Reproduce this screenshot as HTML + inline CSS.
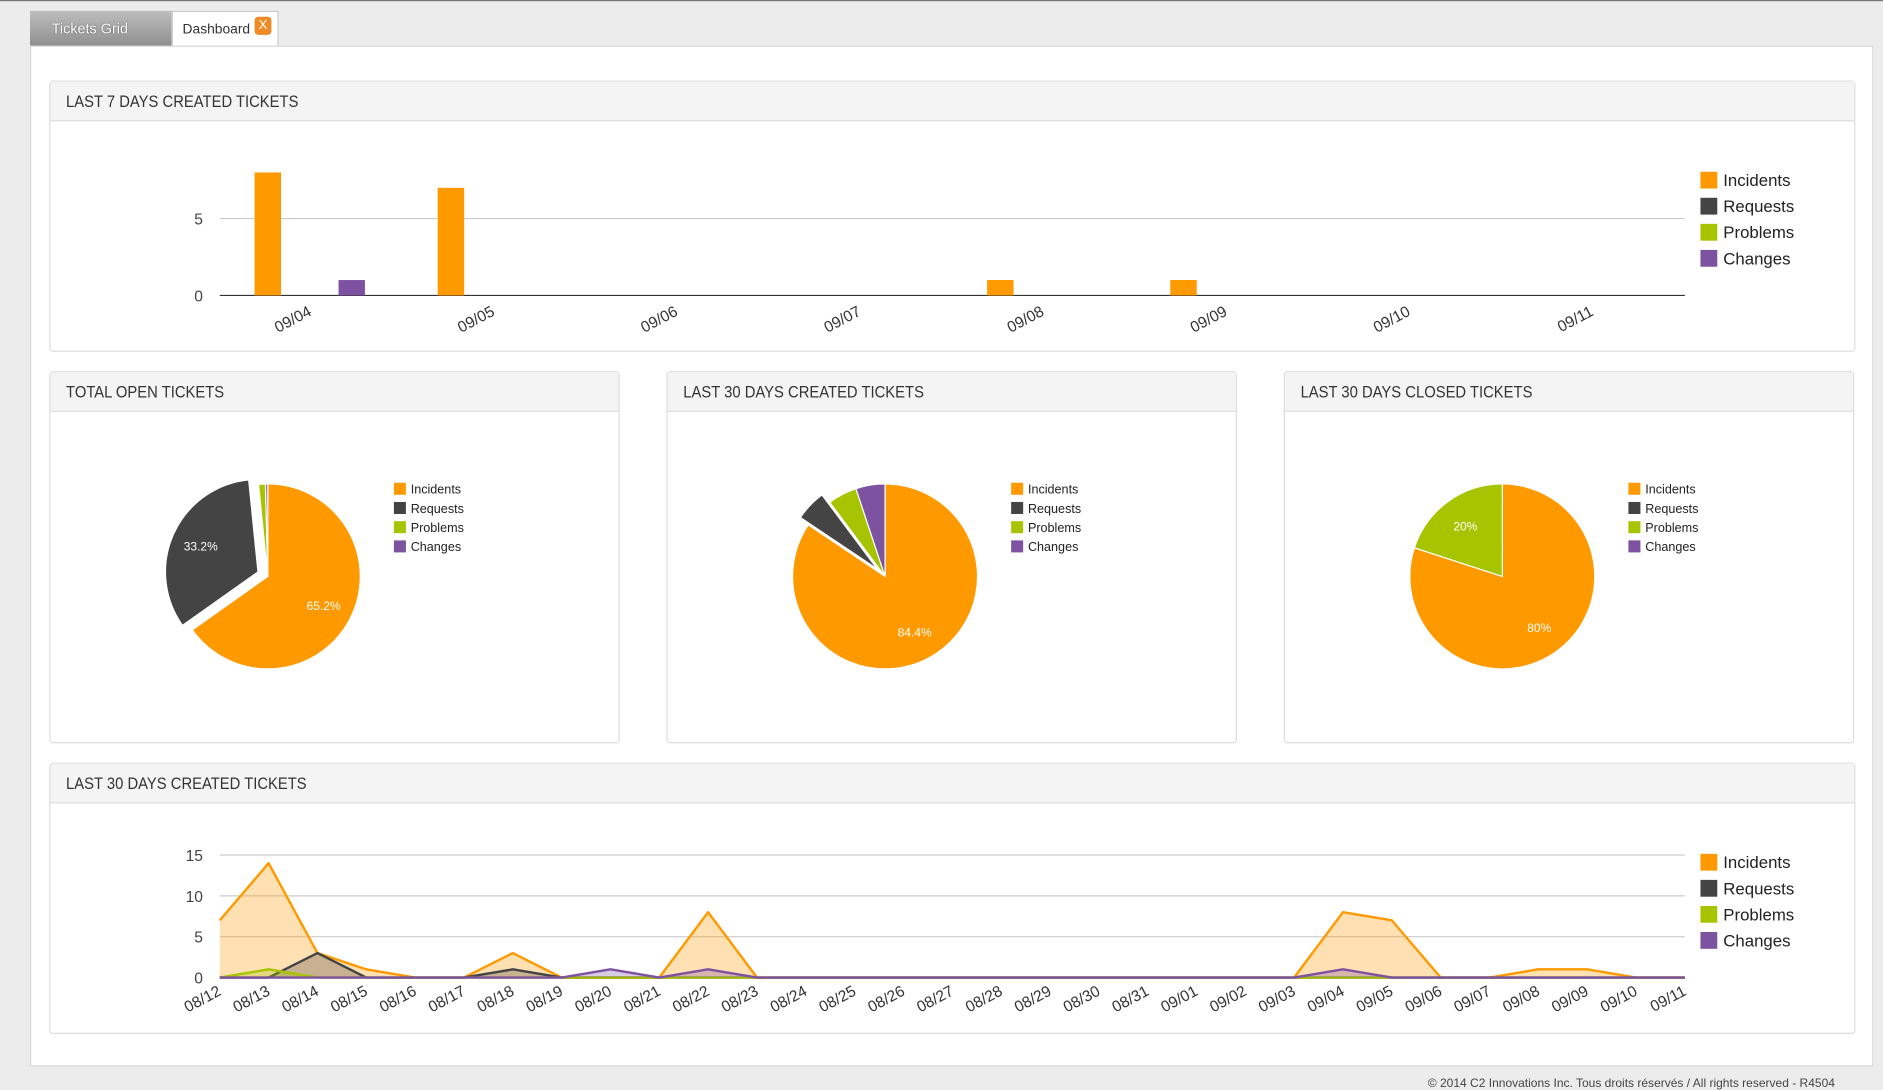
<!DOCTYPE html>
<html><head><meta charset="utf-8">
<style>
html,body{margin:0;padding:0;width:1883px;height:1083px;overflow:hidden;background:#ececec;font-family:"Liberation Sans",sans-serif;}
#wrap{position:absolute;left:0;top:0;width:1568px;height:902px;transform:scale(1.20089);transform-origin:0 0;border-top:1px solid #777;box-sizing:border-box;}
.tab{position:absolute;top:8px;height:30px;box-sizing:border-box;font-size:12px;line-height:30px;}
#tab1{left:25px;width:118px;background:linear-gradient(#bdbdbd,#8e8e8e);color:#fff;padding-left:18px;text-shadow:0 0 1px #333;}
#tab2{left:143px;width:89px;background:#fff;border:1px solid #ccc;border-bottom:none;color:#333;padding-left:8px;font-size:11.5px;}
#xbtn{position:absolute;left:68px;top:4px;width:14px;height:15px;background:#f08a24;border-radius:3px;color:#fff;font-size:11px;line-height:15px;text-align:center;}
#main{position:absolute;left:25px;top:37px;width:1535px;height:850px;background:#fff;border:1px solid #d8d8d8;box-sizing:border-box;}
.panel{position:absolute;background:#fff;border:1px solid #ddd;border-radius:3px;box-sizing:border-box;}
.ph{height:33px;background:#f4f4f4;border-bottom:1px solid #ddd;box-sizing:border-box;font-size:14px;color:#333;line-height:32px;padding-left:13px;white-space:nowrap;}
.ph span{display:inline-block;transform:scaleX(0.88);transform-origin:0 50%;}
svg{position:absolute;left:0;top:0;}
#footer{position:absolute;right:40px;top:896px;font-size:10px;color:#444;}
</style></head><body>
<div id="wrap">
<div class="tab" id="tab1">Tickets Grid</div>
<div class="tab" id="tab2">Dashboard<span id="xbtn">X</span></div>
<div id="main"></div>
<div class="panel" style="left:41px;top:66px;width:1504px;height:226px"><div class="ph"><span>LAST 7 DAYS CREATED TICKETS</span></div></div>
<div class="panel" style="left:41px;top:308px;width:475px;height:310px"><div class="ph"><span>TOTAL OPEN TICKETS</span></div></div>
<div class="panel" style="left:555px;top:308px;width:475px;height:310px"><div class="ph"><span>LAST 30 DAYS CREATED TICKETS</span></div></div>
<div class="panel" style="left:1069px;top:308px;width:475px;height:310px"><div class="ph"><span>LAST 30 DAYS CLOSED TICKETS</span></div></div>
<div class="panel" style="left:41px;top:634px;width:1504px;height:226px"><div class="ph"><span>LAST 30 DAYS CREATED TICKETS</span></div></div>
<svg id="chart" width="1568" height="902"></svg>
<div id="footer">© 2014 C2 Innovations Inc. Tous droits réservés / All rights reserved - R4504</div>
</div>
<script>
const seriesNames=["Incidents","Requests","Problems","Changes"];
const colors=["#ff9900","#444444","#a6c400","#7d52a0"];
const barDays=["09/04","09/05","09/06","09/07","09/08","09/09","09/10","09/11"];
const barIncidents=[8,7,0,0,1,1,0,0];
const barRequests=[0,0,0,0,0,0,0,0];
const barProblems=[0,0,0,0,0,0,0,0];
const barChanges=[1,0,0,0,0,0,0,0];
const barTicks=[0,5];
const pieOpen=[65.2,33.2,1.2,0.4];
const pieCreated=[84.4,5.4,5.1,5.1];
const pieClosed=[80,0,20,0];
const lineDays=["08/12","08/13","08/14","08/15","08/16","08/17","08/18","08/19","08/20","08/21","08/22","08/23","08/24","08/25","08/26","08/27","08/28","08/29","08/30","08/31","09/01","09/02","09/03","09/04","09/05","09/06","09/07","09/08","09/09","09/10","09/11"];
const lineIncidents=[7,14,3,1,0,0,3,0,0,0,8,0,0,0,0,0,0,0,0,0,0,0,0,8,7,0,0,1,1,0,0];
const lineRequests=[0,0,3,0,0,0,1,0,0,0,0,0,0,0,0,0,0,0,0,0,0,0,0,0,0,0,0,0,0,0,0];
const lineProblems=[0,1,0,0,0,0,0,0,0,0,0,0,0,0,0,0,0,0,0,0,0,0,0,0,0,0,0,0,0,0,0];
const lineChanges=[0,0,0,0,0,0,0,0,1,0,1,0,0,0,0,0,0,0,0,0,0,0,0,1,0,0,0,0,0,0,0];
const lineTicks=[0,5,10,15];

const NS="http://www.w3.org/2000/svg";
const svg=document.getElementById("chart");
function mk(tag,attrs,parent){const e=document.createElementNS(NS,tag);for(const k in attrs)e.setAttribute(k,attrs[k]);(parent||svg).appendChild(e);return e;}
function txt(x,y,s,attrs){const t=mk("text",Object.assign({x:x,y:y,"font-family":"Liberation Sans, sans-serif"},attrs));t.textContent=s;return t;}

// ---- bar chart
const bx0=183,bx1=1403,by0=245,bsc=12.8;
const bX=i=>bx0+i*(bx1-bx0)/barDays.length;
const bY=v=>by0-v*bsc;
barTicks.forEach(t=>{
  const l=mk("line",{x1:bx0,x2:bx1,y1:bY(t),y2:bY(t),stroke:t===0?"#333":"#ccc","stroke-width":1});
  
  
  const tt=txt(169,bY(t)+5,String(t),{"font-size":13,fill:"#444","text-anchor":"end"});
  
  
});
const barSeries=[barIncidents,barRequests,barProblems,barChanges];
const slot=(bx1-bx0)/barDays.length;
barDays.forEach((d,i)=>{
  barSeries.forEach((s,k)=>{
    if(s[i]<=0)return;
    const r=mk("rect",{x:bX(i)+29+k*23.3,y:bY(s[i]),width:22,height:s[i]*bsc,fill:colors[k]});
    
    
  });
  const cx=bX(i)+slot/2+1;
  const t=txt(cx,261,d,{"font-size":13,fill:"#333","text-anchor":"end",transform:`rotate(-28 ${cx} 261)`});
  
  
});
function legend(x,y,gap,sq,fs,base){
  seriesNames.forEach((n,k)=>{
    const r=mk("rect",{x:x,y:y+k*gap-sq+ (sq>12?2:1),width:sq,height:sq,fill:colors[k]});
    
    
    const t=txt(x+sq+(sq>12?5:4),y+k*gap,n,{"font-size":fs,fill:"#222"});
    
    
  });
}
legend(1416,154,21.7,14,14,"bar");

// ---- pies
function pie(cx,cy,r,vals,explode,lx,base){
  let a=0;const total=vals.reduce((p,c)=>p+c,0);
  vals.forEach((v,k)=>{
    if(v<=0)return;
    const a0=a,a1=a+v/total*2*Math.PI;a=a1;
    const mid=(a0+a1)/2;
    const ox=k===explode?Math.sin(mid)*9:0, oy=k===explode?-Math.cos(mid)*9:0;
    const px=ang=>cx+ox+r*Math.sin(ang), py=ang=>cy+oy-r*Math.cos(ang);
    const large=(a1-a0)>Math.PI?1:0;
    const p=mk("path",{d:`M${cx+ox},${cy+oy}L${px(a0)},${py(a0)}A${r},${r} 0 ${large} 1 ${px(a1)},${py(a1)}Z`,fill:colors[k],stroke:"#fff","stroke-width":1});
    
    
    if(v/total>0.1){
      const lr=r*0.68;
      const t=txt(cx+ox+lr*Math.sin(mid),cy+oy-lr*Math.cos(mid)+4,(Math.round(v*10)/10)+"%",{"font-size":10,fill:"#fff","text-anchor":"middle"});
      
      
    }
  });
  legend(lx,410,16,10,10.5,base);
}
pie(223,479,77,pieOpen,1,328,"open-pie");
pie(737,479,77,pieCreated,1,842,"created-pie");
pie(1251,479,77,pieClosed,-1,1356,"closed-pie");

// ---- area chart
const lx0=183,lx1=1403,ly0=813,lsc=6.8;
const lX=i=>lx0+i*(lx1-lx0)/(lineDays.length-1);
const lY=v=>ly0-v*lsc;
lineTicks.forEach(t=>{
  const l=mk("line",{x1:lx0,x2:lx1,y1:lY(t),y2:lY(t),stroke:"#ccc","stroke-width":1});
  
  
  const tt=txt(169,lY(t)+5,String(t),{"font-size":13,fill:"#444","text-anchor":"end"});
  
  
});
const lineSeries=[lineIncidents,lineRequests,lineProblems,lineChanges];
lineSeries.forEach((s,k)=>{
  let pts=s.map((v,i)=>lX(i)+","+lY(v)).join(" ");
  const a=mk("polygon",{points:`${lX(0)},${ly0} ${pts} ${lX(s.length-1)},${ly0}`,fill:colors[k],"fill-opacity":0.3});
  
  
  const l=mk("polyline",{points:pts,fill:"none",stroke:colors[k],"stroke-width":2,"stroke-linejoin":"round"});
  
  
});
lineDays.forEach((d,i)=>{
  const x=lX(i)+2,y=827;
  const t=txt(x,y,d,{"font-size":13,fill:"#333","text-anchor":"end",transform:`rotate(-28 ${x} ${y})`});
  
  
});
legend(1416,722,21.7,14,14,"line");
</script>
</body></html>
